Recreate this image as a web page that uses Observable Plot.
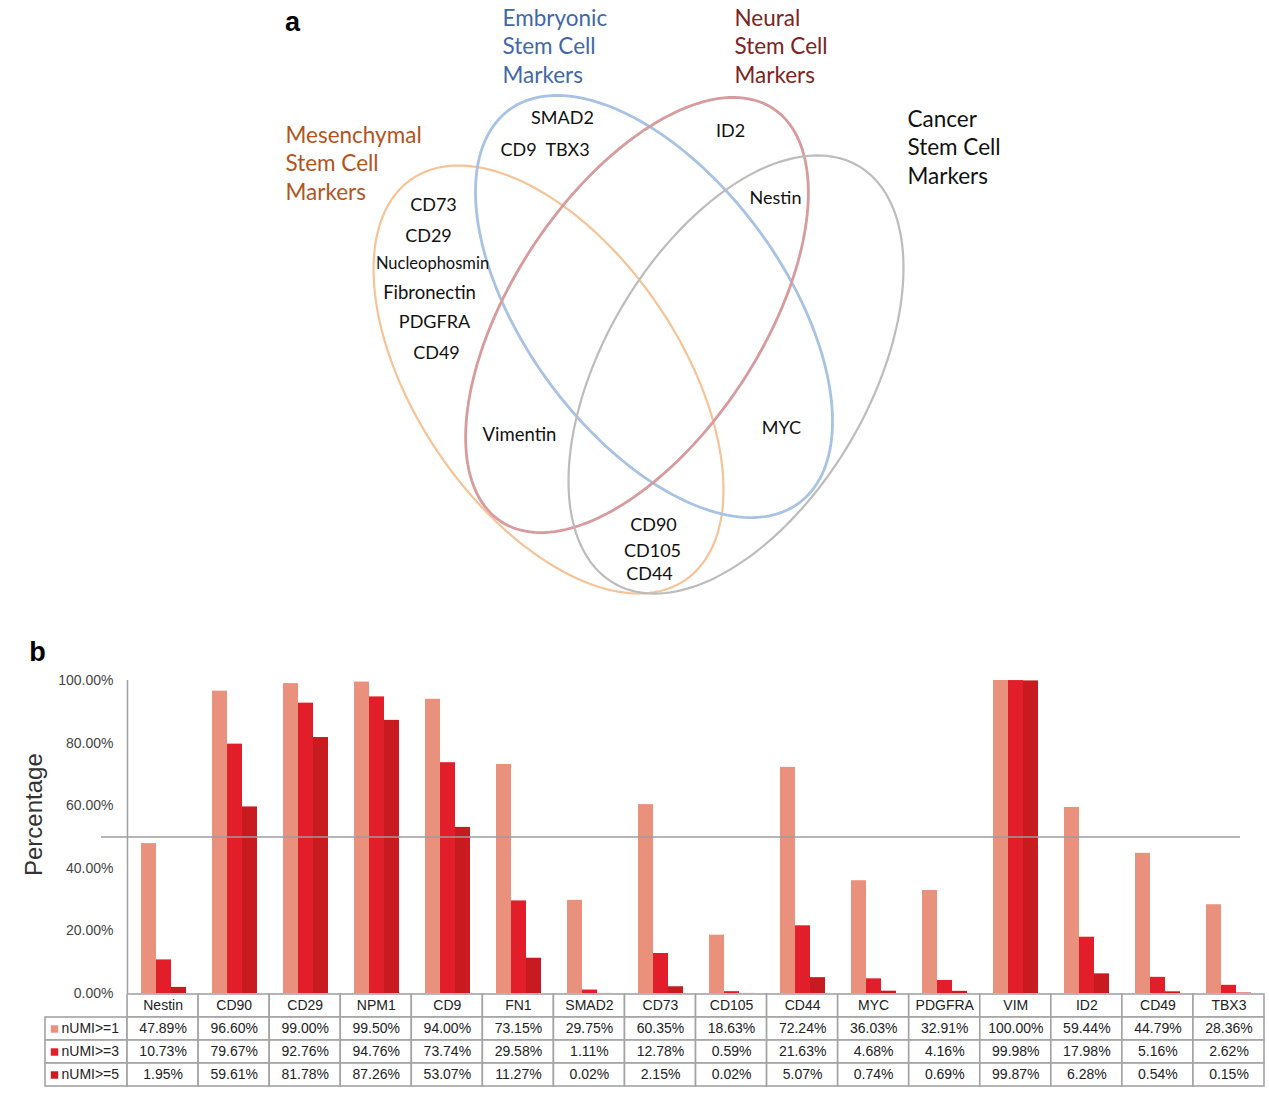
<!DOCTYPE html>
<html>
<head>
<meta charset="utf-8">
<script src="https://cdn.jsdelivr.net/npm/d3@7"></script>
<script src="https://cdn.jsdelivr.net/npm/@observablehq/plot@0.6"></script>
<style>
  html, body { margin: 0; padding: 0; background: #fff; }
  #page { position: relative; width: 1269px; height: 1096px; overflow: hidden; }
  #venn, #bars, #axis, #table { position: absolute; left: 0; }
  #venn { top: 0; }
  #bars, #axis { top: 665px; }
  #table { top: 992px; }
</style>
</head>
<body>
<div id="page">
  <div id="venn"></div>
  <div id="table"></div>
  <div id="bars"></div>
  <div id="axis"></div>
</div>
<script>
// ---------- Data: panel b ----------
const categories = ["Nestin","CD90","CD29","NPM1","CD9","FN1","SMAD2","CD73","CD105","CD44","MYC","PDGFRA","VIM","ID2","CD49","TBX3"];
const seriesNames = ["nUMI>=1","nUMI>=3","nUMI>=5"];
const umi1 = [47.89,96.60,99.00,99.50,94.00,73.15,29.75,60.35,18.63,72.24,36.03,32.91,100.00,59.44,44.79,28.36];
const umi3 = [10.73,79.67,92.76,94.76,73.74,29.58,1.11,12.78,0.59,21.63,4.68,4.16,99.98,17.98,5.16,2.62];
const umi5 = [1.95,59.61,81.78,87.26,53.07,11.27,0.02,2.15,0.02,5.07,0.74,0.69,99.87,6.28,0.54,0.15];
const yTicks = [0,20,40,60,80,100];
const referenceLevel = [50];
const yTitle = "Percentage";

// ---------- Data: panel a (Venn) ----------
const vennSets = ["Mesenchymal","Embryonic","Neural","Cancer"];
const vennTitleLines = [
  ["Mesenchymal","Stem Cell","Markers"],
  ["Embryonic","Stem Cell","Markers"],
  ["Neural","Stem Cell","Markers"],
  ["Cancer","Stem Cell","Markers"]
];
const vennMarkers = ["SMAD2","CD9","TBX3","ID2","Nestin","CD73","CD29","Nucleophosmin","Fibronectin","PDGFRA","CD49","Vimentin","MYC","CD90","CD105","CD44"];
const panelLetters = ["a","b"];

// ---------- Layout / style (kept apart from the data) ----------
const barColors = ["#E9917D","#E31E2B","#C81B20"];
const vennStroke = ["#F6C397","#A8C2E3","#D79B9D","#BCBCBC"];
const vennStrokeW = [2.2, 2.8, 2.8, 2.2];
const vennTitleColor = ["#B2541E","#3F68A8","#7D2320","#111111"];
// ellipse geometry (centre, semi-axes, tilt in degrees) in the Venn plot's units
const ellCx = [548, 653.5, 636.5, 735.5];
const ellCy = [379, 306, 314.5, 374];
const ellA  = [242.7, 244.2, 247.3, 241.8];
const ellB  = [132.3, 129.5, 124.7, 132.6];
const ellAngle = [55.75, 53.6, -56.6, -59.6];
const vennTitleX = [285, 502, 734, 907];
const vennTitleY = [135, 18, 18, 119];
const vennLineStep = 28.5;
const markerX = [562,518,567,730,775,433,428,432,429,434,436,519,781,653,652,649];
const markerY = [118,150,150,131,198,205,236,263,293,322,353,435,428,525,551,574];
const markerSize = [18,18,18,18,18,18,18,16.5,18.5,18,18,18.5,18,18,18,18];
const letterX = [292, 37];
const letterY = [22, 652];

const sansVenn = "Lato, 'Open Sans', sans-serif";
const sansChart = "'Liberation Sans', Arial, sans-serif";

// ---------- Panel a: Venn ----------
const ellipsePts = [];
vennSets.forEach((s, j) => {
  const th = ellAngle[j] * Math.PI / 180;
  for (let t = 0; t <= 360; t += 2) {
    const u = t * Math.PI / 180;
    ellipsePts.push({
      set: s,
      x: ellCx[j] + ellA[j] * Math.cos(th) * Math.cos(u) - ellB[j] * Math.sin(th) * Math.sin(u),
      y: ellCy[j] + ellA[j] * Math.sin(th) * Math.cos(u) + ellB[j] * Math.cos(th) * Math.sin(u)
    });
  }
});
const titleRows = [];
vennTitleLines.forEach((lines, j) => lines.forEach((txt, k) => titleRows.push({
  text: txt, x: vennTitleX[j], y: vennTitleY[j] + k * vennLineStep, color: vennTitleColor[j]
})));
const markerRows = vennMarkers.map((m, i) => ({text: m, x: markerX[i], y: markerY[i], size: markerSize[i]}));
const letterRows = panelLetters.map((l, i) => ({text: l, x: letterX[i], y: letterY[i]}));

const venn = Plot.plot({
  width: 1269, height: 665,
  margin: 0,
  style: {background: "none", overflow: "visible"},
  x: {domain: [0, 1269], range: [0, 1269], axis: null},
  y: {domain: [0, 665], range: [0, 665], axis: null},
  color: {domain: vennSets, range: vennStroke},
  marks: [
    ...vennSets.map((s, j) => Plot.line(ellipsePts.filter(d => d.set === s), {x: "x", y: "y", stroke: "set", strokeWidth: vennStrokeW[j], curve: "linear-closed"})),
    Plot.text(titleRows, {x: "x", y: "y", text: "text", fill: d => d.color, textAnchor: "start", fontSize: 22.5, fontFamily: sansVenn}),
    ...markerRows.map(r => Plot.text([r], {x: "x", y: "y", text: "text", fill: "#111", fontSize: r.size, fontFamily: sansVenn})),
    Plot.text(letterRows, {x: "x", y: "y", text: "text", fill: "#000", fontSize: 27, fontWeight: "bold", fontFamily: sansChart})
  ]
});
document.getElementById("venn").append(venn);

// ---------- Panel b: bars ----------
const seriesValues = [umi1, umi3, umi5];
const barRows = categories.flatMap((c, i) => seriesNames.map((s, k) => ({cat: c, series: s, value: seriesValues[k][i]})));
const first = categories[0], last = categories[categories.length - 1];
const tickFmt = d => d.toFixed(2) + "%";
const frameBox = {width: 1269, height: 328, marginTop: 15, marginBottom: 0, marginLeft: 127, marginRight: 5};

const bars = Plot.plot({
  ...frameBox,
  style: {background: "none", overflow: "visible", fontFamily: sansChart},
  fx: {domain: categories, padding: 0, axis: null},
  x: {domain: seriesNames, paddingInner: 0, paddingOuter: 0.77, axis: null},
  y: {domain: [0, 100], axis: null},
  color: {domain: seriesNames, range: barColors},
  marks: [
    Plot.barY(barRows, {fx: "cat", x: "series", y: "value", fill: "series"}),
    Plot.ruleY(categories.slice(1, -1), {fx: d => d, y: () => referenceLevel[0], stroke: "#9c9c9c", strokeWidth: 1.5}),
    Plot.ruleY([first], {fx: d => d, y: () => referenceLevel[0], stroke: "#9c9c9c", strokeWidth: 1.5, insetLeft: -27}),
    Plot.ruleY([last], {fx: d => d, y: () => referenceLevel[0], stroke: "#9c9c9c", strokeWidth: 1.5, insetRight: 24}),
    Plot.text([yTitle], {fx: () => first, frameAnchor: "left", text: d => d, rotate: -90, dx: -94, dy: 39, fontSize: 24, fill: "#333"})
  ]
});
document.getElementById("bars").append(bars);

// y axis (labels + axis line) on the same frame and y scale, unfaceted
const axisPlot = Plot.plot({
  ...frameBox,
  style: {background: "none", overflow: "visible", fontFamily: sansChart},
  x: {domain: [0, categories.length], axis: null},
  y: {domain: [0, 100], axis: null},
  marks: [
    Plot.axisY({ticks: yTicks, tickFormat: tickFmt, tickSize: 0, tickPadding: 14, fontSize: 14, fill: "#444", label: null}),
    Plot.ruleX([0], {stroke: "#a0a0a0", strokeWidth: 1.5})
  ]
});
document.getElementById("axis").append(axisPlot);

// ---------- Panel b: table ----------
const labelW = 1.155;
const cells = [];
categories.forEach((c, i) => cells.push({row: "hdr", x1: i, x2: i + 1, text: c}));
seriesNames.forEach((s, k) => {
  cells.push({row: s, x1: -labelW, x2: 0, text: ""});
  categories.forEach((c, i) => cells.push({row: s, x1: i, x2: i + 1, text: seriesValues[k][i].toFixed(2) + "%"}));
});
const labelRows = seriesNames.map(s => ({row: s, text: s}));

const table = Plot.plot({
  width: 1269, height: 104,
  marginTop: 1, marginBottom: 9, marginLeft: 45, marginRight: 5,
  style: {background: "none", overflow: "visible", fontFamily: sansChart},
  x: {domain: [-labelW, 16], axis: null},
  y: {domain: ["hdr", ...seriesNames], padding: 0, axis: null},
  color: {domain: seriesNames, range: barColors},
  marks: [
    Plot.barX(cells, {x1: "x1", x2: "x2", y: "row", fill: "#fff", stroke: "#a3a3a3", strokeWidth: 1.6}),
    Plot.text(cells, {x: d => (d.x1 + d.x2) / 2, y: "row", text: "text", fontSize: 14, fill: "#222"}),
    Plot.dot(labelRows, {x: () => -labelW, y: "row", dx: 9, symbol: "square", r: 4.2, fill: "row", stroke: null}),
    Plot.text(labelRows, {x: () => -labelW, y: "row", dx: 16, text: "text", textAnchor: "start", fontSize: 14, fill: "#222"})
  ]
});
document.getElementById("table").append(table);
</script>
</body>
</html>
